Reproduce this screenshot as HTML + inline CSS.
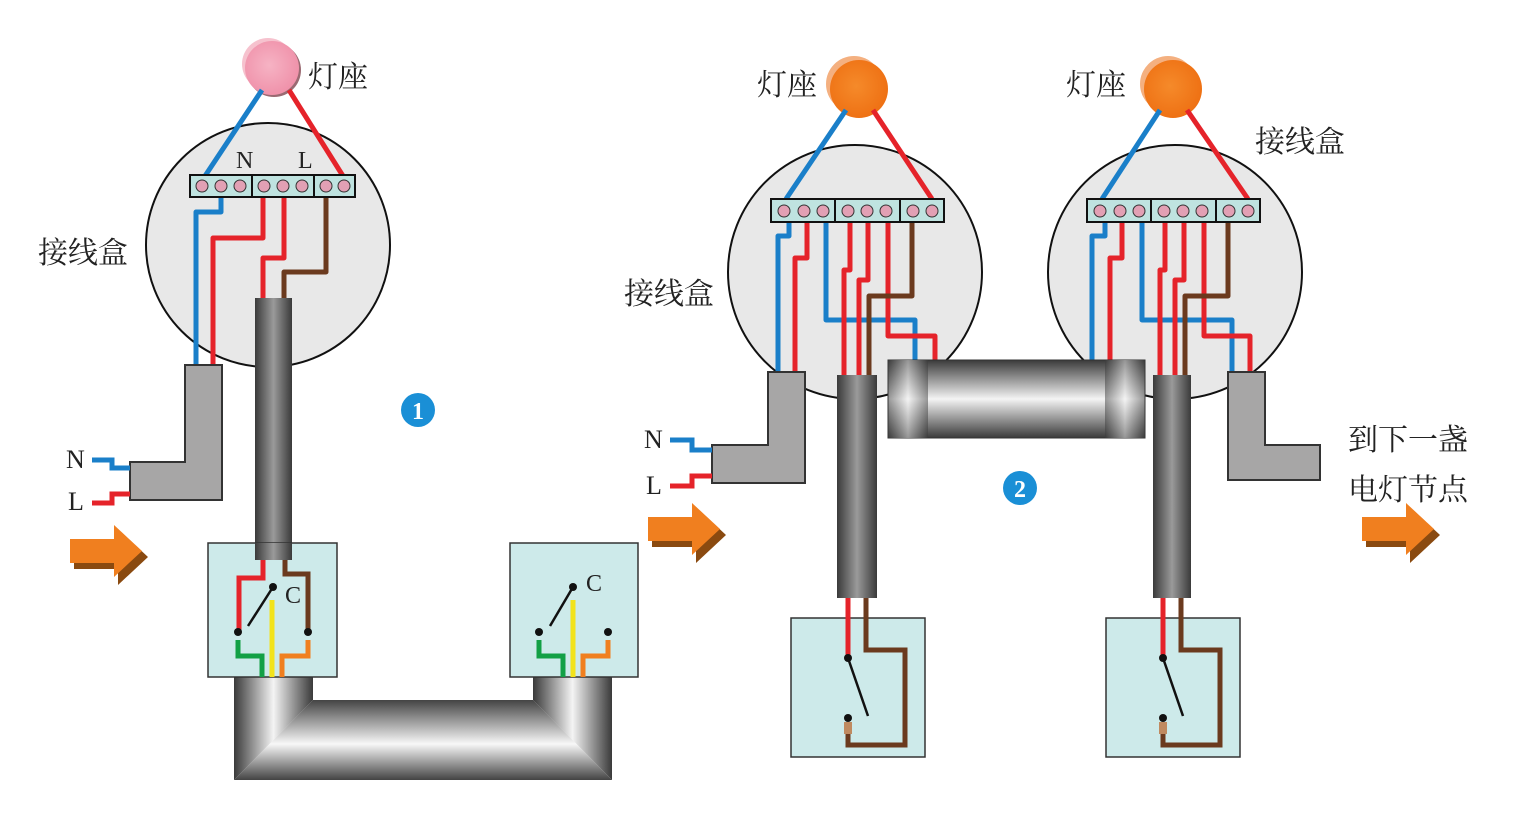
<!DOCTYPE html>
<html><head><meta charset="utf-8"><style>
html,body{margin:0;padding:0;background:#fff;}
svg{display:block;}
text{font-family:"Liberation Serif","Noto Serif CJK SC","Noto Sans CJK SC",serif;fill:#222;}
</style></head><body>
<svg width="1523" height="813" viewBox="0 0 1523 813" xmlns="http://www.w3.org/2000/svg">
<defs>
<linearGradient id="gv" x1="0" x2="1" y1="0" y2="0"><stop offset="0" stop-color="#3a3a3a"/><stop offset="0.5" stop-color="#9a9a9a"/><stop offset="1" stop-color="#3a3a3a"/></linearGradient>
<linearGradient id="gh" x1="0" x2="0" y1="0" y2="1"><stop offset="0" stop-color="#3a3a3a"/><stop offset="0.5" stop-color="#f4f4f4"/><stop offset="1" stop-color="#3a3a3a"/></linearGradient>
<linearGradient id="gv2" x1="0" x2="1" y1="0" y2="0"><stop offset="0" stop-color="#3a3a3a"/><stop offset="0.5" stop-color="#f4f4f4"/><stop offset="1" stop-color="#3a3a3a"/></linearGradient>
<linearGradient id="ghU" x1="0" x2="0" y1="0" y2="1"><stop offset="0" stop-color="#444"/><stop offset="0.55" stop-color="#f8f8f8"/><stop offset="1" stop-color="#444"/></linearGradient>
<radialGradient id="pink" cx="0.45" cy="0.45" r="0.6"><stop offset="0" stop-color="#f6b3c4"/><stop offset="1" stop-color="#ef8fa8"/></radialGradient>
<radialGradient id="orng" cx="0.45" cy="0.45" r="0.6"><stop offset="0" stop-color="#f58a2a"/><stop offset="1" stop-color="#ee6f12"/></radialGradient>
<g id="arrow"><polygon points="4,20 48,20 48,4 78,32 48,60 48,44 4,44" fill="#8a4a10"/><polygon points="0,14 44,14 44,0 72,26 44,52 44,38 0,38" fill="#f07f1f"/></g>
</defs>

<!-- ========== LEFT DIAGRAM ========== -->
<g>
<circle cx="268" cy="64" r="26" fill="#f6c2ce"/>
<circle cx="274" cy="70" r="27" fill="#9a6a72"/>
<circle cx="272" cy="68" r="27" fill="url(#pink)"/>
</g>
<text x="308" y="87" font-size="30">灯座</text>
<circle cx="268" cy="245" r="122" fill="#e8e8e8" stroke="#111" stroke-width="2"/>
<text x="38" y="263" font-size="30">接线盒</text>
<text x="236" y="168" font-size="24">N</text>
<text x="298" y="168" font-size="24">L</text>
<g fill="none" stroke-width="5" stroke-linejoin="round">
<path d="M262,90 L205,176" stroke="#1a7fc9"/>
<path d="M289,90 L343,176" stroke="#e5232a"/>
<path d="M221,197 V212 H196 V366" stroke="#1a7fc9"/>
<path d="M263,197 V238 H213 V366" stroke="#e5232a"/>
<path d="M284,197 V258 H263 V300" stroke="#e5232a"/>
<path d="M326,197 V272 H284 V300" stroke="#6b3a1e"/>
</g>
<g>
<rect x="190" y="175" width="165" height="22" fill="#bfe3e0" stroke="#111" stroke-width="2"/>
<line x1="252" y1="175" x2="252" y2="197" stroke="#111" stroke-width="2"/>
<line x1="314" y1="175" x2="314" y2="197" stroke="#111" stroke-width="2"/>
<g fill="#e2a0b4" stroke="#333" stroke-width="1">
<circle cx="202" cy="186" r="6"/><circle cx="221" cy="186" r="6"/><circle cx="240" cy="186" r="6"/>
<circle cx="264" cy="186" r="6"/><circle cx="283" cy="186" r="6"/><circle cx="302" cy="186" r="6"/>
<circle cx="326" cy="186" r="6"/><circle cx="344" cy="186" r="6"/>
</g></g>
<rect x="255" y="298" width="37" height="262" fill="url(#gv)"/>
<path d="M185,365 H222 V500 H130 V462 H185 Z" fill="#a7a6a6" stroke="#333" stroke-width="2"/>
<g fill="none" stroke-width="5">
<path d="M92,460 H112 V468 H130" stroke="#1a7fc9"/>
<path d="M92,503 H112 V494 H130" stroke="#e5232a"/>
</g>
<text x="66" y="468" font-size="26">N</text>
<text x="68" y="510" font-size="26">L</text>
<use href="#arrow" x="70" y="525"/>
<circle cx="418" cy="410" r="17" fill="#1a8fd6"/>
<text x="418" y="419" font-size="24" font-weight="bold" text-anchor="middle" style="fill:#fff">1</text>

<!-- U conduit (mitred) -->
<g>
<polygon points="234,677 313,677 313,700 234,780" fill="url(#gv2)"/>
<polygon points="533,677 612,677 612,780 533,700" fill="url(#gv2)"/>
<polygon points="234,780 313,700 533,700 612,780" fill="url(#ghU)"/>
</g>

<!-- switch boxes left -->
<g>
<rect x="208" y="543" width="129" height="134" fill="#cdeaea" stroke="#333" stroke-width="1.5"/>
<rect x="255" y="543" width="37" height="17" fill="url(#gv)"/>
<g fill="none" stroke-width="5">
<path d="M263,560 V578 H239 V632" stroke="#e5232a"/>
<path d="M285,560 V574 H308 V632" stroke="#6b3a1e"/>
<path d="M272,600 V677" stroke="#f2e31b"/>
<path d="M238,640 V656 H262 V677" stroke="#12a045"/>
<path d="M308,640 V656 H282 V677" stroke="#f07f1f"/>
</g>
<line x1="273" y1="587" x2="248" y2="626" stroke="#111" stroke-width="2.5"/>
<circle cx="273" cy="587" r="4" fill="#111"/><circle cx="238" cy="632" r="4" fill="#111"/><circle cx="308" cy="632" r="4" fill="#111"/>
<text x="285" y="603" font-size="24">C</text>
</g>
<g>
<rect x="510" y="543" width="128" height="134" fill="#cdeaea" stroke="#333" stroke-width="1.5"/>
<g fill="none" stroke-width="5">
<path d="M573,600 V677" stroke="#f2e31b"/>
<path d="M539,640 V656 H563 V677" stroke="#12a045"/>
<path d="M608,640 V656 H583 V677" stroke="#f07f1f"/>
</g>
<line x1="573" y1="587" x2="550" y2="626" stroke="#111" stroke-width="2.5"/>
<circle cx="573" cy="587" r="4" fill="#111"/><circle cx="539" cy="632" r="4" fill="#111"/><circle cx="608" cy="632" r="4" fill="#111"/>
<text x="586" y="591" font-size="24">C</text>
</g>

<!-- ========== RIGHT DIAGRAM ========== -->
<circle cx="855" cy="272" r="127" fill="#e8e8e8" stroke="#111" stroke-width="2"/>
<circle cx="1175" cy="272" r="127" fill="#e8e8e8" stroke="#111" stroke-width="2"/>
<g>
<circle cx="854" cy="84" r="28" fill="#f4b080"/>
<circle cx="859" cy="89" r="29" fill="url(#orng)"/>
</g>
<g>
<circle cx="1168" cy="84" r="28" fill="#f4b080"/>
<circle cx="1173" cy="89" r="29" fill="url(#orng)"/>
</g>
<text x="757" y="95" font-size="30">灯座</text>
<text x="1066" y="95" font-size="30">灯座</text>
<text x="1255" y="152" font-size="30">接线盒</text>
<text x="624" y="304" font-size="30">接线盒</text>

<g fill="none" stroke-width="5" stroke-linejoin="round">
<path d="M846,110 L786,199" stroke="#1a7fc9"/>
<path d="M873,110 L932,199" stroke="#e5232a"/>
<path d="M789,222 V236 H778 V374" stroke="#1a7fc9"/>
<path d="M807,222 V258 H795 V374" stroke="#e5232a"/>
<path d="M826,222 V320 H915 V362" stroke="#1a7fc9"/>
<path d="M850,222 V270 H844 V378" stroke="#e5232a"/>
<path d="M868,222 V280 H859 V378" stroke="#e5232a"/>
<path d="M888,222 V336 H935 V362" stroke="#e5232a"/>
<path d="M912,222 V296 H869 V378" stroke="#6b3a1e"/>
</g>
<g fill="none" stroke-width="5" stroke-linejoin="round">
<path d="M1160,110 L1102,199" stroke="#1a7fc9"/>
<path d="M1187,110 L1248,199" stroke="#e5232a"/>
<path d="M1105,222 V236 H1092 V362" stroke="#1a7fc9"/>
<path d="M1122,222 V258 H1110 V362" stroke="#e5232a"/>
<path d="M1142,222 V320 H1232 V372" stroke="#1a7fc9"/>
<path d="M1165,222 V270 H1160 V378" stroke="#e5232a"/>
<path d="M1184,222 V280 H1175 V378" stroke="#e5232a"/>
<path d="M1204,222 V336 H1250 V372" stroke="#e5232a"/>
<path d="M1228,222 V296 H1185 V378" stroke="#6b3a1e"/>
</g>
<g>
<rect x="771" y="199" width="173" height="23" fill="#bfe3e0" stroke="#111" stroke-width="2"/>
<line x1="835" y1="199" x2="835" y2="222" stroke="#111" stroke-width="2"/>
<line x1="900" y1="199" x2="900" y2="222" stroke="#111" stroke-width="2"/>
<g fill="#e2a0b4" stroke="#333" stroke-width="1">
<circle cx="784" cy="211" r="6"/><circle cx="804" cy="211" r="6"/><circle cx="823" cy="211" r="6"/>
<circle cx="848" cy="211" r="6"/><circle cx="867" cy="211" r="6"/><circle cx="886" cy="211" r="6"/>
<circle cx="913" cy="211" r="6"/><circle cx="932" cy="211" r="6"/>
</g></g>
<g>
<rect x="1087" y="199" width="173" height="23" fill="#bfe3e0" stroke="#111" stroke-width="2"/>
<line x1="1151" y1="199" x2="1151" y2="222" stroke="#111" stroke-width="2"/>
<line x1="1216" y1="199" x2="1216" y2="222" stroke="#111" stroke-width="2"/>
<g fill="#e2a0b4" stroke="#333" stroke-width="1">
<circle cx="1100" cy="211" r="6"/><circle cx="1120" cy="211" r="6"/><circle cx="1139" cy="211" r="6"/>
<circle cx="1164" cy="211" r="6"/><circle cx="1183" cy="211" r="6"/><circle cx="1202" cy="211" r="6"/>
<circle cx="1229" cy="211" r="6"/><circle cx="1248" cy="211" r="6"/>
</g></g>

<path d="M768,372 H805 V483 H712 V445 H768 Z" fill="#a7a6a6" stroke="#333" stroke-width="2"/>
<path d="M1228,372 H1265 V445 H1320 V480 H1228 Z" fill="#a7a6a6" stroke="#333" stroke-width="2"/>
<g>
<rect x="888" y="360" width="257" height="78" fill="url(#gh)" stroke="#333" stroke-width="1"/>
<rect x="888" y="360" width="40" height="78" fill="url(#gv2)" opacity="0.5"/>
<rect x="1105" y="360" width="40" height="78" fill="url(#gv2)" opacity="0.5"/>
</g>
<rect x="837" y="375" width="40" height="223" fill="url(#gv)"/>
<rect x="1153" y="375" width="38" height="223" fill="url(#gv)"/>

<g fill="none" stroke-width="5">
<path d="M670,440 H692 V450 H712" stroke="#1a7fc9"/>
<path d="M670,486 H692 V476 H712" stroke="#e5232a"/>
</g>
<text x="644" y="448" font-size="26">N</text>
<text x="646" y="494" font-size="26">L</text>
<use href="#arrow" x="648" y="503"/>
<use href="#arrow" x="1362" y="503"/>
<text x="1348" y="450" font-size="30">到下一盏</text>
<text x="1348" y="500" font-size="30">电灯节点</text>
<circle cx="1020" cy="488" r="17" fill="#1a8fd6"/>
<text x="1020" y="497" font-size="24" font-weight="bold" text-anchor="middle" style="fill:#fff">2</text>

<g>
<rect x="791" y="618" width="134" height="139" fill="#cdeaea" stroke="#333" stroke-width="1.5"/>
<g fill="none" stroke-width="5">
<path d="M848,598 V660" stroke="#e5232a"/>
<path d="M866,598 V650 H905 V745 H848 V722" stroke="#6b3a1e"/>
</g>
<line x1="848" y1="658" x2="868" y2="716" stroke="#111" stroke-width="2.5"/>
<circle cx="848" cy="658" r="4" fill="#111"/><circle cx="848" cy="718" r="4" fill="#111"/>
<rect x="844" y="722" width="8" height="12" fill="#c08a60"/>
</g>
<g>
<rect x="1106" y="618" width="134" height="139" fill="#cdeaea" stroke="#333" stroke-width="1.5"/>
<g fill="none" stroke-width="5">
<path d="M1163,598 V660" stroke="#e5232a"/>
<path d="M1181,598 V650 H1220 V745 H1163 V722" stroke="#6b3a1e"/>
</g>
<line x1="1163" y1="658" x2="1183" y2="716" stroke="#111" stroke-width="2.5"/>
<circle cx="1163" cy="658" r="4" fill="#111"/><circle cx="1163" cy="718" r="4" fill="#111"/>
<rect x="1159" y="722" width="8" height="12" fill="#c08a60"/>
</g>
</svg>
</body></html>
